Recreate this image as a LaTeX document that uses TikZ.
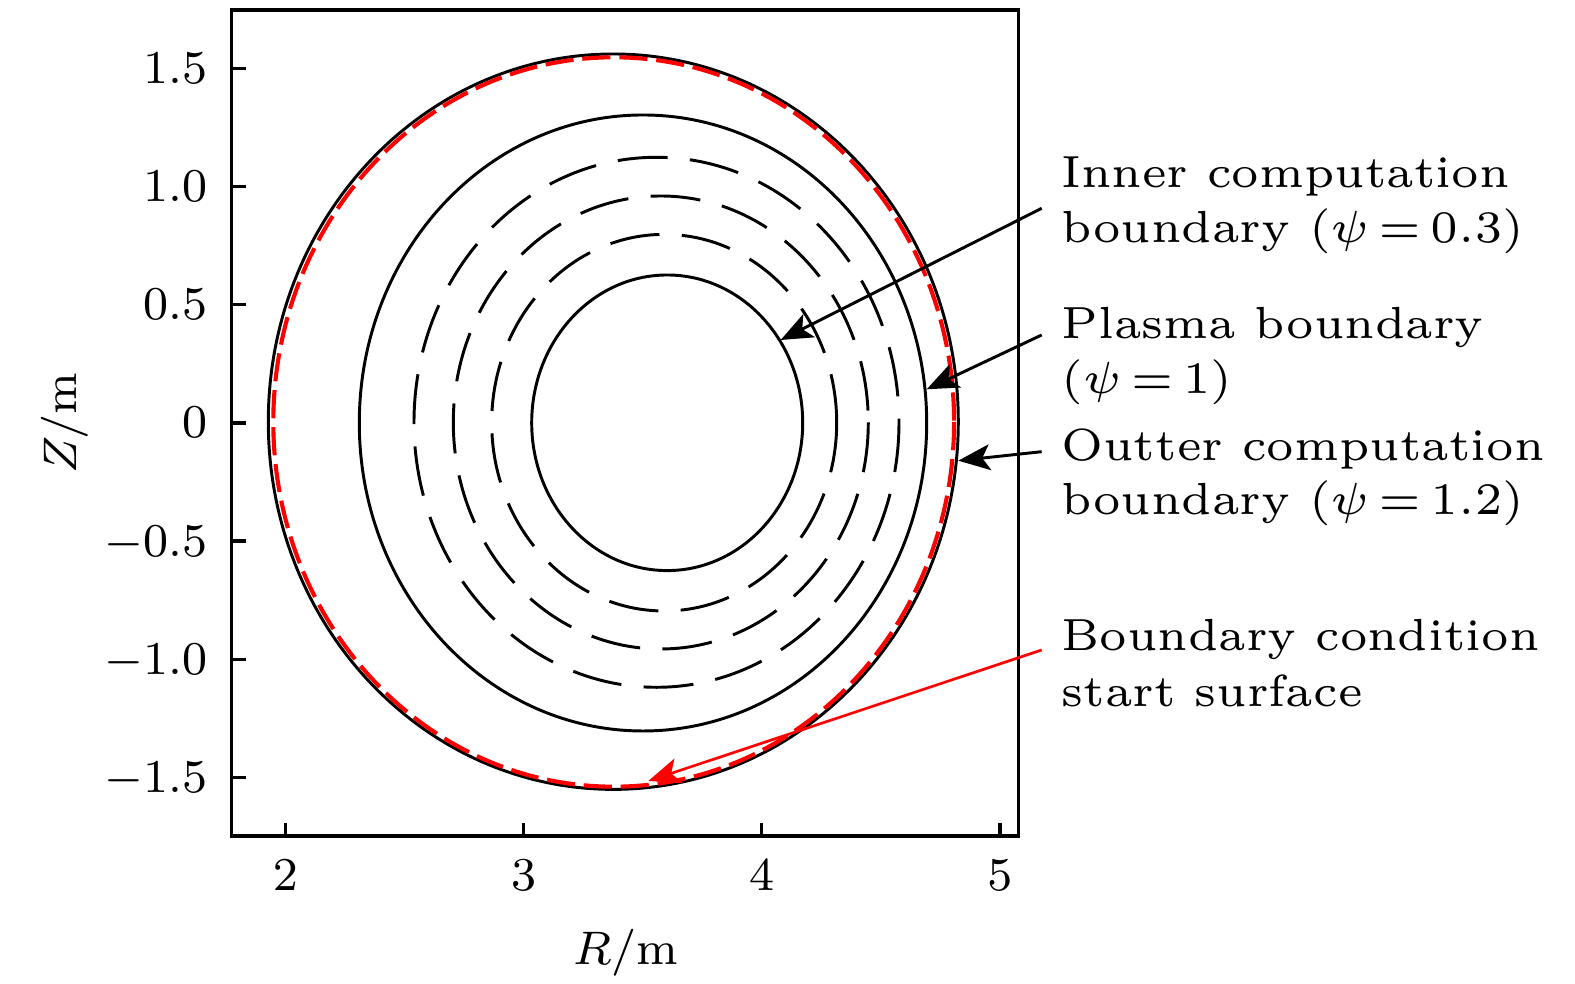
\documentclass[tikz,border=0pt]{standalone}
\usetikzlibrary{arrows.meta}
\newcommand\myannfont{\fontsize{6}{7.33}\selectfont\thickmuskip=3mu plus 2mu\relax}
\begin{document}
\begin{tikzpicture}[x=0.17pt, y=-0.17pt,
  frame/.style={line width=0.55pt},
  curve/.style={line width=0.5pt},
  dcurve/.style={line width=0.5pt, dash pattern=on 8.5pt off 3.8pt},
  rcurve/.style={line width=0.7pt, red, dash pattern=on 4.8pt off 1.5pt},
  ptr/.style={line width=0.5pt, -{Stealth[length=5.4pt,width=4.4pt,inset=1.3pt]}},
  rptr/.style={ptr, red, line width=0.45pt},
  ticklab/.style={font=\fontsize{8}{9.6}\selectfont, inner sep=0pt},
  ann/.style={font=\myannfont, scale=1.275, transform shape, inner sep=0pt, anchor=base west},
]
\useasboundingbox (0,0) rectangle (1575,984);

% frame and ticks
\draw[frame] (231.7,10) rectangle (1018.3,836);
\foreach \xx/\lab in {285.3/2, 523.5/3, 761.7/4, 999.9/5}{
  \draw[frame] (\xx,836) -- (\xx,823);
  \node[ticklab, anchor=base] at (\xx,890.7) {$\lab$};
}
\foreach \yy/\lab in {68.3/1.5, 186.5/1.0, 304.7/0.5, 422.9/0, 541.1/-0.5, 659.3/-1.0, 777.5/-1.5}{
  \draw[frame] (231.7,\yy) -- (245.7,\yy);
  \node[ticklab, anchor=base east] at (208.3,\yy+15) {$\lab$};
}
\node[ticklab, anchor=base] (xlab) at (625.5,965) {$R/\mathrm{m}$};
\node[ticklab, anchor=base, rotate=90] (ylab) at (76,423) {$Z/\mathrm{m}$};

% flux surfaces
\draw[curve] (613.3,421.7) ellipse [x radius=345, y radius=367.7];
\draw[rcurve] (613.7,422) ellipse [x radius=340.4, y radius=364.7];
\draw[curve] (643,423) ellipse [x radius=283.7, y radius=308];
\draw[dcurve] (656.5,422.3) ellipse [x radius=242.5, y radius=265];
\draw[dcurve] (660.8,422.5) ellipse [x radius=207.5, y radius=226.5];
\draw[dcurve] (664.2,422.7) ellipse [x radius=172.5, y radius=188.3];
\draw[curve] (667.2,422.8) ellipse [x radius=135.5, y radius=147.8];

% annotations
\node[ann] (t1a) at (1060,187.7) {Inner computation};
\node[ann] (t1b) at (1060,242.7) {boundary ($\psi=0.3$)};
\node[ann] (t2a) at (1060,338.7) {Plasma boundary};
\node[ann] (t2b) at (1060,393.7) {($\psi=1$)};
\node[ann] (t3a) at (1060,461) {Outter computation};
\node[ann] (t3b) at (1060,515) {boundary ($\psi=1.2$)};
\node[ann] (t4a) at (1060,650.7) {Boundary condition};
\node[ann] (t4b) at (1060,706.7) {start surface};

\coordinate (s1) at (1041.7,208.3);
\coordinate (e1) at (780.7,340);
\coordinate (s2) at (1041.7,335);
\coordinate (e2) at (926.7,389.3);
\coordinate (s3) at (1041.7,451.7);
\coordinate (e3) at (958.3,460.7);
\coordinate (s4) at (1041.7,650);
\coordinate (e4) at (648.3,781);
\draw[ptr] (s1) -- (e1);
\draw[ptr] (s2) -- (e2);
\draw[ptr] (s3) -- (e3);
\draw[rptr] (s4) -- (e4);
\end{tikzpicture}
\end{document}
